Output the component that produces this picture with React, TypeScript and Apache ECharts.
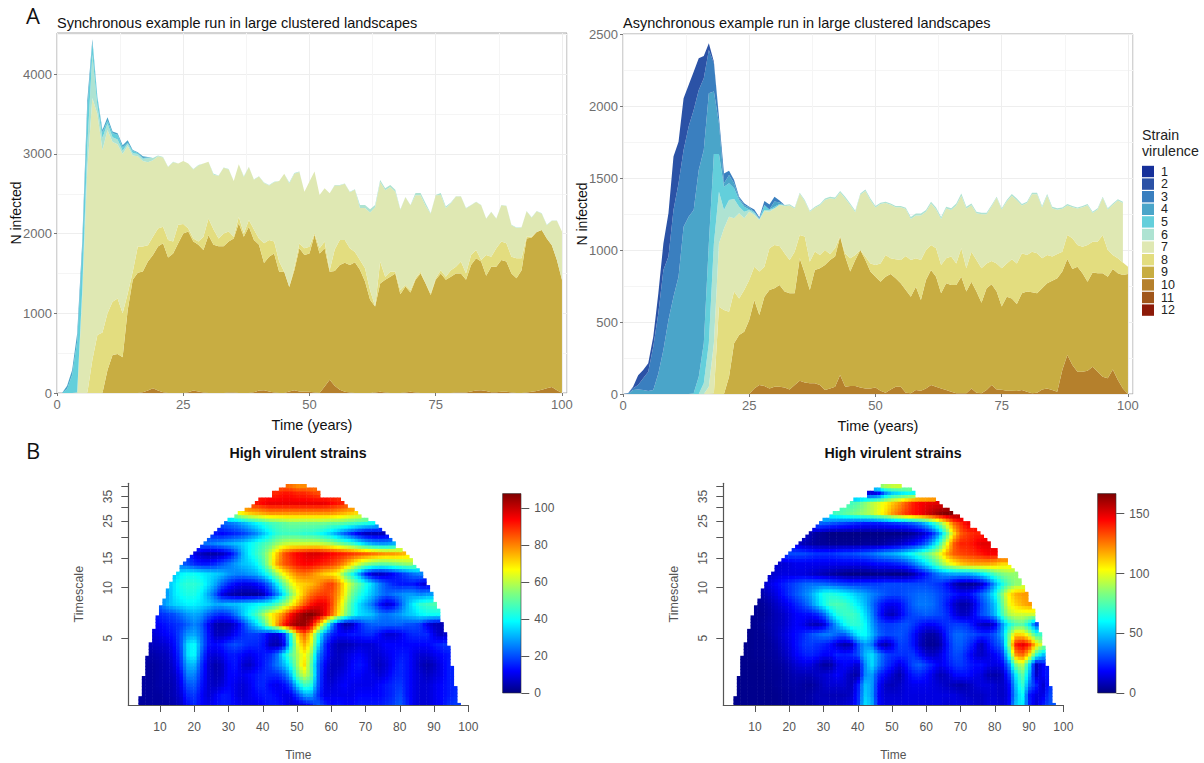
import React, { useEffect, useRef } from "react";
import * as echarts from "echarts";

// ---------- stacked areas: values per year, t = 0..100 ----------
const years = Array.from({ length: 101 }, (_, i) => i);
const strainNames = ["1", "2", "3", "4", "5", "6", "7", "8", "9", "10", "11", "12"];
const strainColors = ["#16309a", "#2b52a6", "#3a7fbf", "#4aa5c9", "#63cfdb", "#aee3d2", "#dfe8b3", "#e3dd7f", "#c8ad42", "#b5802c", "#a0561a", "#8c1a08"];

const syncTotal = [
  0, 0, 90, 290, 750, 1900, 3670, 4440, 3715, 3300,
  3460, 3280, 3260, 3110, 3170, 3050, 3020, 2970, 2960, 2950,
  2980, 2960, 2840, 2900, 2880, 2910, 2880, 2810, 2860, 2880,
  2900, 2750, 2730, 2830, 2810, 2660, 2870, 2720, 2840, 2680,
  2720, 2640, 2610, 2650, 2660, 2750, 2640, 2760, 2778, 2525,
  2655, 2778, 2485, 2570, 2506, 2610, 2610, 2630, 2525, 2556,
  2360, 2360, 2305, 2360, 2673, 2570, 2610, 2550, 2305, 2460,
  2360, 2510, 2510, 2380, 2255, 2485, 2510, 2340, 2390, 2470,
  2470, 2320, 2360, 2400, 2360, 2190, 2275, 2190, 2360, 2350,
  2110, 2075, 2080, 2285, 2205, 2285, 2255, 2110, 2165, 2165,
  2025,
];
const syncTop8 = [
  0, 0, 0, 0, 0, 0, 0, 414, 727, 759,
  1000, 1144, 1187, 1000, 1250, 1520, 1837, 1837, 1855, 1960,
  2065, 2087, 1920, 1900, 2110, 2120, 2065, 1940, 1900, 1960,
  2190, 2050, 1940, 2000, 2025, 1960, 2210, 2000, 2170, 2050,
  1940, 1880, 1920, 1900, 1650, 1520, 1330, 1580, 1877, 1815,
  1835, 2004, 1815, 1900, 1540, 1800, 1920, 1920, 1815, 1770,
  1670, 1565, 1290, 1085, 1650, 1460, 1520, 1520, 1290, 1355,
  1290, 1440, 1520, 1375, 1250, 1440, 1540, 1460, 1540, 1585,
  1650, 1500, 1730, 1795, 1670, 1730, 1710, 1815, 1900, 1880,
  1710, 1690, 1690, 1960, 1960, 2020, 2045, 1940, 1855, 1670,
  1420,
];
const syncTop9 = [
  0, 0, 0, 0, 0, 0, 0, 0, 0, 0,
  290, 476, 490, 450, 1040, 1420, 1510, 1525, 1650, 1730,
  1837, 1880, 1700, 1750, 1880, 2000, 2025, 1900, 1860, 1795,
  1980, 1860, 1840, 1840, 1900, 1940, 2130, 1960, 2087, 1920,
  1860, 1630, 1710, 1750, 1520, 1520, 1330, 1540, 1815, 1730,
  1750, 1985, 1750, 1815, 1520, 1530, 1605, 1635, 1605, 1640,
  1545, 1400, 1170, 1085, 1375, 1420, 1460, 1500, 1240, 1335,
  1260, 1420, 1500, 1375, 1230, 1420, 1500, 1420, 1460, 1500,
  1500, 1420, 1605, 1690, 1650, 1470, 1585, 1585, 1670, 1650,
  1500, 1440, 1540, 1940, 1950, 2020, 2045, 1940, 1855, 1670,
  1420,
];
const sync10 = [
  0, 0, 0, 0, 0, 0, 0, 0, 0, 0,
  0, 0, 0, 0, 0, 0, 0, 10, 30, 60,
  30, 10, 0, 0, 0, 0, 10, 30, 20, 5,
  0, 0, 0, 0, 5, 5, 0, 0, 0, 10,
  30, 35, 20, 5, 0, 0, 20, 35, 20, 15,
  15, 5, 0, 80, 165, 90, 40, 15, 5, 0,
  0, 0, 0, 5, 15, 5, 0, 0, 0, 5,
  15, 5, 0, 0, 0, 0, 0, 0, 0, 5,
  5, 5, 20, 30, 35, 25, 10, 10, 15, 15,
  5, 0, 0, 5, 15, 25, 40, 60, 75, 35,
  0,
];
const sync4 = [0, 0, 40, 60, 100, 100, 120, 40, 15, 30, 40, 20, 20, 30, 30, 10, 10, 20, 5];
const sync5 = [0, 0, 50, 230, 640, 500, 450, 150, 100, 70, 40, 50, 60, 40, 10, 30, 10, 10, 10];
const sync6 = [
  0, 0, 0, 0, 10, 100, 300, 550, 100, 150,
  80, 60, 60, 40, 30, 30, 30, 30, 50, 30,
  10, 5, 5, 5, 0, 0, 0, 5, 5, 0,
  0, 10, 5, 5, 5, 0, 0, 10, 5, 5,
  5, 5, 5, 5, 0, 0, 10, 10, 5, 0,
  0, 0, 0, 0, 0, 5, 5, 5, 5, 5,
  40, 40, 40, 30, 25, 25, 25, 25, 5, 5,
  5, 30, 30, 30, 5, 5, 25, 20, 10, 5,
  5, 5, 5, 5, 5, 5, 5, 5, 5, 5,
  5, 5, 5, 5, 5, 5, 5, 5, 5, 5,
  0,
];

const asyncTotal = [
  0, 5, 50, 130, 166, 213, 400, 700, 1046, 1255,
  1650, 1752, 2053, 2146, 2238, 2331, 2347, 2435, 2308, 1926,
  1532, 1551, 1486, 1370, 1324, 1300, 1282, 1227, 1329, 1312,
  1370, 1324, 1312, 1317, 1296, 1398, 1347, 1273, 1301, 1319,
  1358, 1370, 1365, 1410, 1370, 1323, 1273, 1393, 1421, 1358,
  1305, 1328, 1335, 1323, 1305, 1305, 1293, 1230, 1254, 1254,
  1277, 1335, 1296, 1230, 1300, 1290, 1323, 1393, 1300, 1323,
  1265, 1258, 1258, 1312, 1370, 1290, 1347, 1389, 1358, 1319,
  1335, 1398, 1398, 1305, 1389, 1300, 1290, 1296, 1319, 1305,
  1296, 1305, 1319, 1265, 1290, 1370, 1290, 1323, 1352, 1335,
  1347,
];
// early strains die out; after the last listed year they sit on the total
const asyncTop3 = [0, 5, 40, 62, 109, 155, 329, 560, 861, 954, 1278, 1463, 1695, 1857, 1972, 2111, 2192, 2389, 2297, 1926];
const asyncTop4 = [0, 0, 28, 32, 28, 21, 28, 143, 305, 514, 676, 815, 1162, 1231, 1278, 1556, 1695, 2088, 2100, 1880, 1463, 1521, 1463, 1359, 1312, 1295, 1266, 1220, 1300, 1278, 1336, 1310];
const asyncTop5 = [0, 0, 0, 0, 0, 0, 0, 0, 0, 0, 0, 0, 0, 0, 5, 120, 352, 1046, 1667, 1667, 1440, 1463, 1428, 1347, 1301, 1282, 1266, 1215, 1312, 1282, 1301, 1300];
const asyncTop6 = [0, 0, 0, 0, 0, 0, 0, 0, 0, 0, 0, 0, 0, 0, 0, 0, 74, 352, 1046, 1405, 1278, 1347, 1354, 1301, 1266, 1278, 1255, 1213, 1278, 1278, 1290, 1295];
const asyncTop7 = [0, 0, 0, 0, 0, 0, 0, 0, 0, 0, 0, 0, 0, 0, 0, 0, 0, 51, 352, 1046, 1150, 1231, 1220, 1255, 1220, 1266, 1243, 1208, 1270, 1266, 1289];
const asyncPale = [
  10, 8, 8, 8, 8, 8, 8, 8, 8,
  10, 10, 10, 10, 12, 10, 10, 10, 12, 12,
  10, 8, 8, 8, 8, 8, 8, 14, 14, 14,
  12, 12, 14, 14, 12, 12, 14, 16, 12, 12,
  10, 10, 10, 8, 8, 8, 10, 12, 12, 10,
  8, 10, 10, 10, 10, 10, 10, 10, 10, 8,
  8, 8, 8, 8, 8, 8, 8, 8, 8, 8,
];
const asyncTop8 = [
  0, 0, 0, 0, 0, 0, 0, 0, 0, 0,
  0, 0, 0, 0, 0, 0, 0, 0, 5, 606,
  583, 572, 711, 664, 722, 792, 884, 850, 884, 1012,
  1035, 1028, 977, 931, 988, 1104, 1093, 919, 990, 965,
  1000, 972, 1012, 1095, 977, 942, 965, 1000, 954, 907,
  896, 907, 965, 942, 935, 930, 958, 930, 942, 930,
  1000, 1035, 1012, 896, 942, 954, 907, 1012, 873, 988,
  930, 873, 907, 923, 907, 873, 907, 935, 907, 977,
  965, 988, 977, 942, 965, 954, 972, 988, 1104, 1081,
  1035, 1023, 1035, 1058, 1058, 1104, 1000, 965, 942, 914,
  884,
];
const asyncTop9 = [
  0, 0, 0, 0, 0, 0, 0, 0, 0, 0,
  0, 0, 0, 0, 0, 0, 0, 0, 0, 0,
  0, 120, 352, 410, 433, 514, 653, 549, 676, 722,
  734, 757, 711, 699, 699, 942, 838, 722, 861, 873,
  896, 930, 954, 1093, 954, 850, 930, 1000, 930, 850,
  815, 780, 815, 833, 803, 769, 722, 676, 745, 653,
  792, 861, 815, 699, 769, 757, 757, 815, 711, 780,
  711, 634, 734, 762, 711, 607, 676, 664, 625, 699,
  711, 706, 699, 734, 769, 787, 803, 850, 938, 868,
  884, 838, 780, 843, 838, 838, 815, 868, 838, 826,
  833,
];
const async10 = [
  0, 0, 0, 0, 0, 0, 0, 0, 0, 0,
  0, 0, 0, 0, 0, 0, 0, 0, 0, 0,
  0, 0, 0, 0, 0, 0, 39, 63, 55, 39,
  51, 51, 46, 32, 63, 92, 79, 74, 74, 62,
  28, 39, 51, 132, 51, 55, 55, 46, 39, 39,
  46, 23, 9, 32, 51, 51, 9, 5, 28, 23,
  39, 62, 51, 39, 28, 16, 5, 5, 5, 39,
  9, 5, 28, 62, 32, 30, 23, 23, 21, 28,
  16, 5, 9, 32, 39, 28, 16, 167, 271, 201,
  155, 155, 162, 190, 155, 120, 109, 171, 97, 39,
  0,
];

// ---------- wavelet power: [first year, then a value every 2 years], one row per 0.2 octave from period 2 ----------
const syncPower: number[][] = [
  [4, 3, 3, 3, 3, 3, 4, 6, 12, 16, 12, 10, 12, 14, 14, 12, 10, 10, 10, 12, 14, 14, 12, 8, 8, 10, 14, 22, 16, 12, 14, 12, 12, 14, 14, 14, 14, 16, 18, 22, 16, 10, 8, 8, 10, 12, 16, 18],
  [4, 3, 3, 3, 3, 4, 5, 8, 16, 18, 12, 8, 10, 14, 14, 10, 8, 10, 12, 14, 14, 12, 10, 10, 18, 28, 30, 18, 10, 10, 10, 10, 10, 12, 12, 12, 12, 14, 16, 20, 14, 10, 8, 8, 10, 12, 14, 16],
  [4, 3, 3, 3, 4, 4, 5, 10, 20, 22, 14, 8, 6, 8, 12, 10, 8, 10, 14, 16, 12, 10, 12, 18, 34, 46, 44, 22, 10, 8, 10, 12, 10, 10, 10, 10, 12, 14, 16, 18, 14, 10, 8, 8, 10, 12, 14, 16],
  [4, 3, 3, 3, 4, 5, 6, 12, 26, 26, 16, 8, 5, 6, 12, 12, 10, 12, 14, 16, 16, 16, 20, 30, 50, 62, 54, 24, 10, 6, 8, 10, 12, 12, 10, 10, 8, 10, 14, 16, 14, 10, 8, 6, 8, 10, 14, 16],
  [4, 3, 3, 3, 4, 5, 8, 16, 30, 32, 18, 8, 4, 6, 12, 14, 8, 6, 10, 14, 18, 24, 30, 40, 56, 72, 52, 24, 12, 6, 6, 8, 12, 14, 12, 8, 6, 8, 12, 16, 14, 10, 6, 4, 6, 10, 14, 16],
  [4, 4, 4, 4, 5, 6, 10, 18, 36, 40, 22, 10, 8, 10, 14, 14, 12, 10, 12, 14, 16, 22, 36, 48, 58, 68, 58, 28, 16, 8, 6, 8, 10, 12, 10, 8, 8, 10, 12, 14, 14, 10, 8, 8, 10, 12, 14, 14],
  [4, 5, 5, 6, 7, 8, 12, 20, 36, 40, 26, 14, 12, 14, 18, 20, 18, 16, 16, 14, 6, 4, 8, 36, 62, 76, 66, 38, 18, 8, 5, 5, 6, 8, 8, 8, 10, 12, 12, 12, 12, 12, 12, 12, 14, 16, 18, 14],
  [4, 6, 6, 8, 10, 12, 14, 20, 28, 30, 24, 14, 6, 6, 8, 12, 16, 18, 18, 16, 10, 8, 14, 40, 70, 84, 72, 46, 26, 16, 12, 12, 14, 14, 16, 16, 12, 8, 8, 10, 14, 16, 16, 16, 10, 6, 8, 12],
  [4, 8, 8, 10, 12, 14, 16, 18, 22, 26, 22, 12, 5, 4, 5, 8, 16, 26, 34, 44, 60, 76, 90, 100, 105, 106, 98, 78, 56, 30, 12, 4, 6, 14, 20, 22, 22, 22, 22, 22, 20, 20, 18, 10, 6, 5, 8, 14],
  [4, 10, 12, 14, 16, 18, 20, 24, 28, 30, 28, 22, 18, 16, 18, 24, 32, 40, 46, 56, 66, 72, 80, 92, 100, 106, 108, 104, 96, 84, 70, 56, 44, 36, 34, 32, 26, 24, 26, 28, 32, 34, 38, 40, 40, 40, 40, 40],
  [10, 24, 30, 34, 36, 38, 38, 36, 34, 30, 30, 32, 32, 34, 36, 38, 40, 42, 48, 56, 64, 74, 84, 92, 96, 96, 88, 74, 60, 46, 36, 30, 24, 14, 8, 10, 20, 30, 38, 44, 46, 48],
  [12, 28, 36, 40, 42, 42, 38, 30, 22, 10, 6, 4, 3, 3, 3, 5, 14, 24, 36, 52, 64, 74, 82, 86, 88, 86, 78, 66, 52, 44, 38, 32, 26, 22, 24, 26, 28, 28, 26, 28],
  [12, 30, 36, 42, 44, 44, 42, 36, 30, 22, 16, 12, 10, 10, 12, 16, 24, 36, 50, 62, 70, 72, 74, 78, 84, 88, 80, 68, 58, 50, 42, 34, 26, 20, 16, 14, 14, 14, 10, 8],
  [14, 32, 38, 40, 40, 38, 36, 34, 32, 28, 26, 26, 28, 30, 36, 44, 56, 66, 74, 80, 82, 80, 76, 72, 70, 66, 52, 42, 30, 16, 8, 6, 8, 12, 16, 20, 24, 26],
  [16, 22, 20, 16, 14, 14, 16, 20, 24, 28, 32, 34, 38, 46, 60, 76, 84, 88, 92, 94, 94, 92, 90, 88, 84, 78, 70, 62, 56, 52, 50, 50, 52, 54, 56, 56],
  [18, 16, 10, 6, 4, 4, 6, 10, 18, 30, 38, 44, 50, 60, 72, 84, 90, 94, 96, 98, 98, 96, 94, 92, 90, 88, 86, 84, 82, 80, 78, 78, 76, 74],
  [22, 24, 24, 26, 28, 30, 32, 34, 38, 42, 46, 50, 56, 60, 62, 62, 62, 62, 62, 60, 58, 54, 50, 46, 40, 34, 30, 28, 28, 30, 34],
  [24, 16, 14, 12, 14, 16, 18, 22, 26, 32, 38, 44, 46, 46, 46, 44, 44, 42, 38, 34, 28, 22, 16, 10, 6, 5, 5, 6, 10],
  [28, 22, 24, 26, 30, 34, 38, 42, 46, 48, 50, 52, 52, 52, 52, 52, 52, 50, 50, 48, 46, 44, 42, 40, 38],
  [32, 62, 68, 72, 74, 76, 78, 78, 78, 78, 78, 78, 78, 78, 78, 78, 76, 74, 72, 70],
  [38, 92, 94, 96, 96, 96, 96, 96, 96, 96, 96, 96, 94, 92, 90, 88],
  [44, 90, 92, 92, 90, 90, 88, 86],
  [48, 78, 74, 74],
];
const asyncPower: number[][] = [
  [4, 2, 2, 2, 2, 2, 2, 2, 3, 4, 5, 5, 6, 8, 10, 10, 10, 12, 14, 24, 56, 50, 20, 14, 14, 14, 14, 14, 14, 14, 14, 14, 12, 14, 14, 14, 12, 10, 14, 14, 12, 16, 50, 60, 24, 12, 22, 32],
  [4, 2, 2, 2, 2, 2, 2, 2, 3, 4, 5, 5, 6, 8, 8, 8, 8, 8, 10, 22, 52, 46, 18, 12, 12, 12, 14, 14, 14, 14, 14, 14, 14, 14, 12, 10, 10, 10, 12, 12, 10, 14, 44, 64, 22, 14, 14, 30],
  [4, 2, 2, 2, 2, 2, 2, 3, 4, 5, 6, 5, 4, 6, 10, 12, 12, 12, 8, 20, 50, 46, 20, 10, 8, 10, 14, 16, 16, 16, 14, 12, 10, 8, 6, 8, 12, 14, 14, 12, 10, 16, 48, 72, 38, 24, 10, 26],
  [4, 2, 2, 2, 2, 2, 3, 3, 4, 6, 8, 8, 8, 10, 12, 14, 18, 14, 8, 4, 40, 46, 26, 18, 12, 6, 14, 22, 24, 20, 14, 8, 10, 18, 20, 20, 16, 14, 8, 6, 8, 24, 56, 80, 50, 10, 18, 24],
  [4, 2, 2, 2, 2, 2, 3, 4, 5, 8, 12, 14, 14, 10, 5, 5, 14, 18, 16, 10, 40, 56, 40, 28, 22, 14, 20, 30, 34, 28, 22, 16, 20, 26, 28, 24, 20, 20, 16, 14, 16, 36, 80, 96, 60, 8, 18, 24],
  [6, 2, 2, 3, 3, 4, 5, 8, 12, 18, 22, 24, 22, 18, 18, 24, 22, 24, 30, 48, 56, 42, 30, 26, 26, 26, 28, 20, 12, 10, 14, 22, 30, 30, 22, 14, 10, 14, 18, 24, 60, 120, 130, 110, 70, 50],
  [6, 2, 2, 3, 3, 4, 6, 10, 14, 20, 26, 28, 26, 24, 20, 12, 6, 8, 30, 44, 40, 14, 6, 14, 28, 28, 22, 10, 4, 3, 6, 20, 32, 34, 28, 20, 8, 18, 28, 34, 80, 140, 150, 140, 110, 90],
  [8, 2, 3, 3, 5, 8, 12, 16, 20, 24, 30, 34, 38, 38, 34, 32, 44, 58, 62, 50, 36, 30, 30, 32, 30, 22, 12, 6, 5, 10, 24, 34, 36, 32, 30, 26, 26, 32, 44, 78, 110, 110, 96, 70],
  [8, 2, 3, 4, 6, 8, 10, 14, 18, 16, 10, 8, 12, 30, 46, 60, 68, 68, 62, 46, 32, 28, 28, 30, 32, 28, 22, 18, 18, 22, 26, 28, 28, 26, 18, 10, 8, 14, 40, 62, 74, 78, 60, 30],
  [10, 3, 3, 5, 8, 10, 14, 18, 20, 20, 24, 34, 52, 66, 70, 72, 68, 56, 42, 24, 12, 8, 14, 24, 30, 32, 34, 32, 30, 26, 16, 10, 10, 18, 30, 36, 48, 70, 90, 96, 96, 96],
  [10, 3, 4, 6, 10, 14, 18, 24, 30, 38, 50, 62, 72, 74, 72, 66, 58, 50, 38, 26, 18, 16, 18, 26, 34, 38, 38, 36, 30, 22, 12, 6, 6, 14, 28, 38, 50, 76, 100, 110, 116, 120],
  [12, 6, 10, 14, 20, 26, 32, 38, 44, 54, 64, 66, 64, 60, 56, 50, 46, 40, 36, 32, 30, 30, 32, 34, 36, 36, 34, 30, 26, 22, 18, 18, 24, 34, 44, 60, 82, 104, 116, 120],
  [12, 10, 14, 18, 22, 26, 30, 34, 36, 36, 36, 34, 32, 30, 28, 28, 28, 28, 28, 30, 30, 30, 30, 30, 30, 30, 28, 26, 20, 10, 4, 3, 4, 10, 24, 44, 62, 76, 86],
  [14, 10, 12, 14, 14, 14, 14, 12, 10, 8, 6, 4, 2, 1, 1, 1, 1, 2, 2, 1, 1, 2, 6, 14, 22, 32, 40, 44, 46, 46, 46, 50, 56, 64, 74, 82, 86],
  [16, 12, 12, 14, 16, 16, 16, 16, 16, 16, 16, 16, 16, 16, 16, 18, 20, 20, 22, 24, 28, 36, 46, 56, 68, 82, 96, 104, 112, 116, 118, 118, 118, 116, 110],
  [18, 28, 30, 30, 30, 28, 26, 26, 26, 28, 30, 30, 32, 34, 36, 40, 44, 46, 50, 56, 62, 70, 78, 88, 100, 118, 130, 134, 136, 138, 142, 146, 146],
  [20, 14, 12, 8, 6, 4, 4, 3, 3, 3, 3, 3, 4, 4, 4, 6, 8, 10, 14, 18, 24, 34, 50, 72, 100, 130, 140, 140, 144, 150, 150],
  [24, 14, 8, 4, 3, 1, 1, 1, 1, 1, 1, 1, 1, 1, 1, 1, 2, 4, 8, 14, 26, 46, 76, 108, 130, 136, 140, 140],
  [28, 36, 34, 32, 30, 28, 26, 24, 22, 22, 22, 24, 26, 28, 30, 34, 40, 50, 64, 82, 104, 128, 138, 148],
  [32, 70, 72, 76, 80, 84, 88, 92, 100, 108, 120, 128, 136, 142, 146, 152, 158, 164, 167, 167, 165, 160],
  [38, 72, 76, 84, 92, 98, 104, 112, 120, 130, 140, 146, 148, 150, 150],
  [44, 14, 16, 40, 52, 56, 60, 62],
  [48, 115, 115, 115],
];
// edge of the cone of influence: [log2(period), first year inside]
const coneOctave = [1.0, 1.35, 1.76, 2.12, 2.39, 2.62, 2.85, 3.05, 3.21, 3.38, 3.58, 3.81, 3.98, 4.14, 4.34, 4.5, 4.7, 4.83, 5.07, 5.26, 5.4];
const coneLeft = [3.7, 4.7, 5.7, 6.7, 7.7, 8.7, 9.7, 10.7, 11.7, 12.7, 14.2, 17, 19, 22, 24.6, 27, 30.4, 33.8, 38.7, 45, 49];

const periodLabels = [5, 10, 15, 25, 35];
const periodTicks = [5, 10, 15, 20, 25, 30, 35, 40];
const timeTicks = [10, 20, 30, 40, 50, 60, 70, 80, 90, 100];
const syncBarTicks = [0, 20, 40, 60, 80, 100];
const asyncBarTicks = [0, 50, 100, 150];
const syncPowerMax = 108;
const asyncPowerMax = 167;

// ---------- helpers ----------
const jetStops: [number, number[]][] = [
  [0, [0, 0, 127]], [0.11, [0, 0, 255]], [0.36, [0, 255, 255]], [0.5, [127, 255, 127]],
  [0.62, [255, 255, 0]], [0.87, [255, 0, 0]], [1, [127, 0, 0]],
];
const rgb = (c: number[]) => `rgb(${c.map(Math.round).join(",")})`;
function jet(f: number) {
  const x = Math.min(1, Math.max(0, f));
  for (let i = 1; i < jetStops.length; i++) {
    const [a, ca] = jetStops[i - 1];
    const [b, cb] = jetStops[i];
    if (x <= b) return rgb(ca.map((v, k) => v + ((cb[k] - v) * (x - a)) / (b - a)));
  }
  return rgb(jetStops[6][1]);
}
const nonNeg = (v: number) => Math.max(0, v);
const at = (a: number[], t: number) => (t < a.length ? a[t] : 0);
const atOr = (a: number[], t: number, d: number) => (t < a.length ? a[t] : d);

function syncStrains(): number[][] {
  const out = strainNames.map(() => years.map(() => 0));
  years.forEach((t) => {
    out[3][t] = at(sync4, t);
    out[4][t] = at(sync5, t);
    out[5][t] = sync6[t];
    out[6][t] = nonNeg(syncTotal[t] - syncTop8[t] - at(sync4, t) - at(sync5, t) - sync6[t]);
    out[7][t] = nonNeg(syncTop8[t] - syncTop9[t]);
    out[8][t] = nonNeg(syncTop9[t] - sync10[t]);
    out[9][t] = sync10[t];
  });
  return out;
}
function asyncStrains(): number[][] {
  const out = strainNames.map(() => years.map(() => 0));
  years.forEach((t) => {
    const tot = asyncTotal[t];
    const top3 = atOr(asyncTop3, t, tot);
    const top4 = atOr(asyncTop4, t, tot);
    const top5 = atOr(asyncTop5, t, tot);
    const top6 = atOr(asyncTop6, t, tot);
    const top7 = t < asyncTop7.length ? asyncTop7[t] : tot - asyncPale[t - asyncTop7.length];
    out[1][t] = nonNeg(tot - top3);
    out[2][t] = nonNeg(top3 - top4);
    out[3][t] = nonNeg(top4 - top5);
    out[4][t] = nonNeg(top5 - top6);
    out[5][t] = nonNeg(top6 - top7);
    out[6][t] = nonNeg(top7 - asyncTop8[t]);
    out[7][t] = nonNeg(asyncTop8[t] - asyncTop9[t]);
    out[8][t] = nonNeg(asyncTop9[t] - async10[t]);
    out[9][t] = async10[t];
  });
  return out;
}

const ROW_STEP = 0.2;
const rowValue = (rows: number[][], r: number, t: number) => {
  const row = rows[Math.max(0, Math.min(rows.length - 1, r))];
  const n = row.length - 1;
  const p = Math.max(0, Math.min(n - 1, (t - row[0]) / 2));
  const i = Math.floor(p);
  const a = row[1 + i];
  const b = row[1 + Math.min(n - 1, i + 1)];
  return a + (b - a) * (p - i);
};
// display shading between the read values
const shade = (rows: number[][], t: number, oct: number) => {
  const p = Math.max(0, (oct - 1) / ROW_STEP);
  const r = Math.floor(p);
  const a = rowValue(rows, r, t);
  const b = rowValue(rows, r + 1, t);
  return a + (b - a) * (p - r);
};
const coneEdge = (oct: number) => {
  if (oct >= coneOctave[coneOctave.length - 1]) return 50.5;
  for (let i = 1; i < coneOctave.length; i++) {
    if (oct <= coneOctave[i]) {
      const f = (oct - coneOctave[i - 1]) / (coneOctave[i] - coneOctave[i - 1]);
      return coneLeft[i - 1] + (coneLeft[i] - coneLeft[i - 1]) * f;
    }
  }
  return 50.5;
};

function heatSeries(rows: number[][], max: number, gridIndex: number) {
  const data: number[][] = [];
  rows.forEach((row, r) => {
    const oct = 1 + r * ROW_STEP;
    const n = row.length - 1;
    for (let i = 0; i < n; i++) data.push([row[0] + i * 2, oct, row[1 + i]]);
    // cone cells just past the first or last value read in a row
    for (let t = row[0] - 2; t >= 2 && t >= coneEdge(oct + ROW_STEP) - 3; t -= 2) data.push([t, oct, row[1]]);
    for (let t = row[0] + n * 2; t <= 100 && t <= 101 - coneEdge(oct + ROW_STEP) + 3; t += 2) data.push([t, oct, row[n]]);
  });
  return {
    type: "custom",
    name: "power" + gridIndex,
    coordinateSystem: "cartesian2d",
    xAxisIndex: gridIndex,
    yAxisIndex: gridIndex,
    silent: true,
    clip: true,
    encode: { x: 0, y: 1 },
    data,
    renderItem: (_: any, api: any) => {
      const t = api.value(0);
      const oct = api.value(1);
      const children: any[] = [];
      [-1.3, -0.3].forEach((dx) => {
        [-0.1, -0.0333, 0.0333].forEach((dy) => {
          const x0 = t + dx;
          const y0 = oct + dy;
          const cx = x0 + 0.5;
          const cy = y0 + 0.0333;
          if (cy < 1 || cy > 5.4) return;
          const edge = coneEdge(cy);
          if (cx < edge || cx > 101 - edge) return;
          const a = api.coord([x0, y0]);
          const b = api.coord([x0 + 1, y0 + 0.0667]);
          children.push({
            type: "rect",
            shape: { x: a[0], y: b[1] - 0.4, width: b[0] - a[0] + 0.5, height: a[1] - b[1] + 0.8 },
            style: { fill: jet(shade(rows, cx, cy) / max) },
          });
        });
      });
      return { type: "group", children };
    },
  };
}

const majorLine = { show: true, lineStyle: { color: "#eeeeee", width: 1 } };
const minorLine = { show: true, lineStyle: { color: "#f5f5f5", width: 1 } };
// one slot per year and one empty slot after year 100, where the panel runs on a little
const yearSlots = [...years, 101].map(String);
const isLabelledYear = (i: number) => i % 25 === 0;
function areaAxes(gridIndex: number, yMax: number, yInterval: number, yTicks: number[], nameGap: number) {
  return {
    x: {
      type: "category", gridIndex, data: yearSlots, boundaryGap: false,
      name: "Time (years)", nameLocation: "middle", nameGap: 24,
      nameTextStyle: { color: "#111", fontSize: 14.5, fontFamily: "Liberation Sans" },
      axisLine: { show: false },
      axisTick: { show: true, length: 3, lineStyle: { color: "#777" }, interval: (i: number) => isLabelledYear(i) },
      axisLabel: { color: "#6e6e6e", fontSize: 13, margin: 5, fontFamily: "Liberation Sans", interval: (i: number) => isLabelledYear(i) },
      splitLine: { show: false },
    },
    // vertical grid lines, in the same panel, on a plain year scale
    xGrid: {
      type: "value", gridIndex, min: 0, max: 101, interval: 25, position: "top",
      axisLine: { show: false }, axisTick: { show: false }, axisLabel: { show: false },
      splitLine: majorLine,
      minorTick: { show: false, splitNumber: 2 },
      minorSplitLine: minorLine,
    },
    y: {
      type: "value", gridIndex, min: 0, max: yMax, interval: yInterval,
      name: "N infected", nameLocation: "middle",
      nameTextStyle: { color: "#111", fontSize: 14, fontFamily: "Liberation Sans" },
      nameGap, nameMoveOverlap: false,
      axisLine: { show: false },
      axisTick: { show: true, length: 3, lineStyle: { color: "#777" }, customValues: yTicks },
      axisLabel: { color: "#6e6e6e", fontSize: 13, margin: 5, fontFamily: "Liberation Sans", customValues: yTicks, formatter: (v: number) => String(v) },
      splitLine: majorLine,
      minorTick: { show: false, splitNumber: 2 },
      minorSplitLine: minorLine,
    },
  };
}
function heatAxes(gridIndex: number) {
  const oct = (v: number) => Math.log2(v);
  const line = { show: true, lineStyle: { color: "#555", width: 1.2 } };
  return {
    x: {
      type: "value", gridIndex, min: 0.75, max: 100,
      name: "Time", nameLocation: "middle", nameGap: 44,
      nameTextStyle: { color: "#555", fontSize: 12, fontFamily: "Liberation Sans" },
      axisLine: { ...line, onZero: false },
      axisTick: { show: true, length: 7, lineStyle: { color: "#555", width: 1 }, customValues: timeTicks },
      axisLabel: { color: "#555", fontSize: 12, margin: 16, fontFamily: "Liberation Sans", customValues: timeTicks },
      splitLine: { show: false },
    },
    y: {
      type: "value", gridIndex, min: 1, max: 5.39,
      name: "Timescale", nameLocation: "middle", nameGap: 43,
      nameTextStyle: { color: "#555", fontSize: 12.5, fontFamily: "Liberation Sans" },
      axisLine: { ...line, onZero: false },
      axisTick: { show: true, length: 7, lineStyle: { color: "#555", width: 1 }, customValues: periodTicks.map(oct) },
      axisLabel: {
        color: "#555", fontSize: 12, margin: 14, rotate: 90, fontFamily: "Liberation Sans",
        customValues: periodLabels.map(oct),
        formatter: (v: number) => String(Math.round(2 ** v)),
      },
      splitLine: { show: false },
    },
  };
}
function barAxes(gridIndex: number, max: number, ticks: number[]) {
  return {
    x: { type: "category", gridIndex, data: ["power"], show: false },
    y: {
      type: "value", gridIndex, position: "right", min: 0, max,
      axisLine: { show: false },
      axisTick: { show: true, length: 8, lineStyle: { color: "#555" }, customValues: ticks },
      axisLabel: { color: "#555", fontSize: 12, margin: 13, fontFamily: "Liberation Sans", customValues: ticks },
      splitLine: { show: false },
    },
  };
}
function barSeries(gridIndex: number, max: number) {
  return {
    type: "bar", name: "bar" + gridIndex, xAxisIndex: gridIndex, yAxisIndex: gridIndex,
    barWidth: "100%", silent: true, data: [max],
    itemStyle: {
      borderColor: "#333", borderWidth: 0.6,
      color: new echarts.graphic.LinearGradient(0, 1, 0, 0, jetStops.map(([offset, c]) => ({ offset, color: rgb(c) }))),
    },
  };
}
function areaSeries(values: number[][], gridIndex: number) {
  const out: any[] = [];
  for (let s = 11; s >= 0; s--) {
    out.push({
      type: "line", name: strainNames[s], stack: "strains" + gridIndex,
      xAxisIndex: gridIndex, yAxisIndex: gridIndex,
      color: strainColors[s], showSymbol: false, silent: true,
      lineStyle: { width: 0 },
      itemStyle: { color: strainColors[s] },
      areaStyle: { color: strainColors[s], opacity: 1 },
      data: values[s],
    });
  }
  return out;
}

export default function App() {
  const ref = useRef<HTMLDivElement>(null);
  useEffect(() => {
    document.body.style.margin = "0";
    const chart = echarts.init(ref.current!, undefined, { renderer: "svg" });
    const a1 = areaAxes(0, 4517, 1000, [0, 1000, 2000, 3000, 4000], 34);
    const a2 = areaAxes(1, 2500, 500, [0, 500, 1000, 1500, 2000, 2500], 34);
    const h1 = heatAxes(2);
    const h2 = heatAxes(3);
    const b1 = barAxes(4, syncPowerMax, syncBarTicks);
    const b2 = barAxes(5, asyncPowerMax, asyncBarTicks);
    const border = { show: true, borderColor: "#a6a6a6", borderWidth: 1, backgroundColor: "#fff" };
    const titleFont = { color: "#111", fontSize: 14.5, fontWeight: "normal" as const, fontFamily: "Liberation Sans" };
    const heatTitle = { color: "#111", fontSize: 14.2, fontWeight: "bold" as const, fontFamily: "Liberation Sans" };
    chart.setOption({
      animation: false,
      backgroundColor: "#fff",
      title: [
        { text: "A", left: 26, top: 4, padding: 0, textStyle: { color: "#111", fontSize: 22, fontWeight: "normal", fontFamily: "Open Sans" } },
        { text: "B", left: 26, top: 439, padding: 0, textStyle: { color: "#111", fontSize: 22, fontWeight: "normal", fontFamily: "Open Sans" } },
        { text: "Synchronous example run in large clustered landscapes", left: 57, top: 15, padding: 0, textStyle: titleFont },
        { text: "Asynchronous example run in large clustered landscapes", left: 623, top: 15, padding: 0, textStyle: titleFont },
        { text: "High virulent strains", left: 298, top: 446, padding: 0, textAlign: "center", textStyle: heatTitle },
        { text: "High virulent strains", left: 893, top: 446, padding: 0, textAlign: "center", textStyle: heatTitle },
        { text: "Strain\nvirulence", left: 1142, top: 127, padding: 0, textStyle: { color: "#222", fontSize: 14.2, fontWeight: "normal", lineHeight: 16, fontFamily: "Liberation Sans" } },
      ],
      legend: {
        data: strainNames, orient: "vertical", left: 1142, top: 165, padding: 0,
        icon: "rect", itemWidth: 12, itemHeight: 11.4, itemGap: -0.4, selectedMode: false,
        textStyle: { color: "#222", fontSize: 12.5, fontFamily: "Liberation Sans", padding: [0, 0, 0, 2], lineHeight: 12 },
      },
      grid: [
        { left: 57, top: 33, width: 510, height: 360, ...border },
        { left: 623, top: 34, width: 510, height: 360, ...border },
        { left: 128.3, top: 483.3, width: 340, height: 221.7 },
        { left: 723.3, top: 483.3, width: 340, height: 221.7 },
        { left: 502.3, top: 493.3, width: 19, height: 200 },
        { left: 1097.3, top: 493.3, width: 19, height: 200 },
      ],
      xAxis: [a1.x, a2.x, h1.x, h2.x, b1.x, b2.x, a1.xGrid, a2.xGrid],
      yAxis: [a1.y, a2.y, h1.y, h2.y, b1.y, b2.y],
      series: [
        ...areaSeries(syncStrains(), 0),
        ...areaSeries(asyncStrains(), 1),
        heatSeries(syncPower, syncPowerMax, 2),
        heatSeries(asyncPower, asyncPowerMax, 3),
        barSeries(4, syncPowerMax),
        barSeries(5, asyncPowerMax),
      ],
    });
    return () => chart.dispose();
  }, []);
  return <div ref={ref} style={{ position: "absolute", left: 0, top: 0, width: 1204, height: 763 }} />;
}
